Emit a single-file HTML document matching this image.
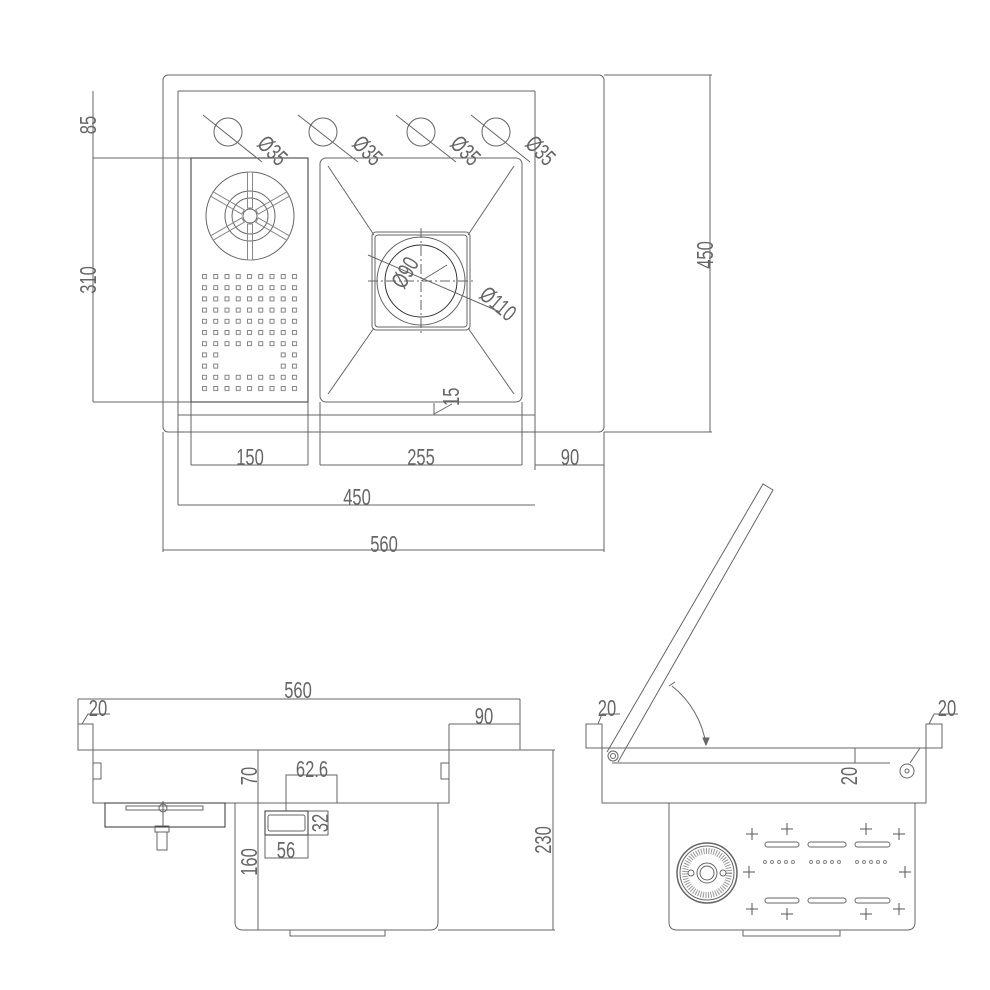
<!DOCTYPE html>
<html><head><meta charset="utf-8"><style>
html,body{margin:0;padding:0;background:#fff}
svg{display:block}
text{font-family:"Liberation Sans Narrow","Liberation Sans",sans-serif;fill:#666;font-size:23px}
</style></head><body>
<svg width="990" height="990" viewBox="0 0 990 990" xmlns="http://www.w3.org/2000/svg">
<defs>
<pattern id="dots" patternUnits="userSpaceOnUse" x="201" y="273" width="11.25" height="11.2">
<rect x="1.5" y="1.5" width="4" height="4" fill="none" stroke="#777" stroke-width="0.9"/>
</pattern>
</defs>
<g fill="none" stroke="#666" stroke-width="1">
<!-- TOP VIEW -->
<rect x="163" y="75" width="441" height="357" rx="5"/>
<path d="M178 91 H535 M178 91 V505 M535 91 V470"/>
<path d="M178 415 H535"/>
<rect x="191" y="158" width="117" height="244" stroke="#333"/>
<rect x="320" y="158" width="202" height="244" rx="6"/>
<rect x="372" y="232" width="98" height="98" rx="4"/>
<rect x="375" y="235" width="92" height="92" rx="3"/>
<path d="M328 166 L374 235 M514 166 L468 235 M328 394 L374 328 M514 394 L468 328"/>
<circle cx="421" cy="281" r="44"/>
<circle cx="421" cy="281" r="36" stroke="#333"/>
<path d="M368 281 H474 M421 228 V336" stroke-dasharray="10 3 2 3"/>
<path d="M368 255 L500 312 M421 281 L447 265"/>
<!-- tap holes -->
<circle cx="228" cy="132" r="14"/><circle cx="323" cy="132" r="14"/><circle cx="421" cy="132" r="14"/><circle cx="496" cy="132" r="14"/>
<path d="M203 115 L262 162 M298 115 L358 162 M396 115 L456 162 M471 115 L530 162"/>
<!-- strainer -->
<circle cx="250" cy="216" r="44"/>
<circle cx="250" cy="216" r="25"/>
<circle cx="250" cy="216" r="18"/>
<circle cx="250" cy="216" r="7"/>
<g stroke="#888">
<rect x="247.5" y="172" width="5" height="36"/>
<rect x="247.5" y="224" width="5" height="36"/>
<rect x="247.5" y="172" width="5" height="36" transform="rotate(60 250 216)"/>
<rect x="247.5" y="172" width="5" height="36" transform="rotate(120 250 216)"/>
<rect x="247.5" y="172" width="5" height="36" transform="rotate(240 250 216)"/>
<rect x="247.5" y="172" width="5" height="36" transform="rotate(300 250 216)"/>
</g>
<!-- dims top -->
<path d="M93 158 H191 M93 91 V402 M93 402 H191"/>
<path d="M604 75 H712 M604 432 H712 M710 75 V432"/>
<path d="M191 402 V465 M308 402 V465 M320 402 V465 M522 402 V465 M604 432 V552 M163 432 V552"/>
<path d="M191 465 H308 M320 465 H522 M535 465 H604 M178 505 H535 M163 550 H604"/>
<path d="M434 403 V415 M434 414 L452 404"/>
<!-- FRONT VIEW -->
<path d="M78 699 H520 M78 699 V750 M520 699 V750 M78 750 H520"/>
<rect x="78" y="724" width="15" height="26"/>
<path d="M449 724 H520 M449 724 V750"/>
<rect x="93" y="750" width="356" height="53"/>
<path d="M258 750 V930"/>
<rect x="93" y="763" width="8" height="16"/><rect x="441" y="763" width="8" height="16"/>
<rect x="105" y="803" width="120" height="24" stroke="#333"/>
<path d="M126 806 H203 V810 H126 Z M163 801 V826"/>
<circle cx="163" cy="808" r="4"/>
<rect x="155" y="826" width="14" height="6"/><rect x="157" y="832" width="10" height="18"/>
<path d="M235 803 V922 Q235 930 243 930 H430 Q438 930 438 922 V803"/>
<path d="M290 930 V936 H385 V930"/>
<path d="M438 750 H555 M438 930 H555 M553 750 V930"/>
<rect x="265" y="811" width="43" height="24" stroke="#333"/>
<rect x="268" y="815" width="37" height="16" rx="2"/>
<path d="M286 811 V775 H337 V803 M308 811 H328 V835 H308 M265 835 V858 H308 V835"/>
<!-- SIDE VIEW -->
<rect x="586" y="724" width="16" height="24"/><rect x="926" y="724" width="16" height="24"/>
<rect x="602" y="748" width="324" height="55"/>
<path d="M612 763 H855 M855 748 V763 H890 M890 748 H910 M920 748 L910 763"/>
<circle cx="907" cy="771" r="7"/><circle cx="907" cy="771" r="2"/>
<circle cx="613" cy="756" r="5"/><circle cx="613" cy="756" r="2.5"/>
<path d="M607 752 L763 484 L773 490 L618 762"/>
<path d="M672 686 A92 92 0 0 1 706 745"/>
<path d="M669 686 l6 -4 M706 745 l-3 -7 l6 0 z" fill="#666"/>
<path d="M669 803 V922 Q669 930 677 930 H907 Q915 930 915 922 V803"/>
<path d="M743 930 V936 H840 V930"/>
<circle cx="707" cy="873" r="30" stroke-width="1.5"/>
<circle cx="707" cy="873" r="27"/>
<circle cx="707" cy="873" r="22" stroke="#999" stroke-width="6" stroke-dasharray="1 1.5"/>
<circle cx="707" cy="873" r="10" fill="#fff"/>
<circle cx="707" cy="873" r="7"/>
<circle cx="691" cy="873" r="3" fill="#fff"/><circle cx="723" cy="873" r="3" fill="#fff"/>
<g stroke="#555">
<path d="M752 828 v12 M746 834 h12 M787 823 v12 M781 829 h12 M866 823 v12 M860 829 h12 M899 828 v12 M893 834 h12"/>
<path d="M749 866 v12 M743 872 h12 M905 866 v12 M899 872 h12"/>
<path d="M752 903 v12 M746 909 h12 M787 908 v12 M781 914 h12 M866 908 v12 M860 914 h12 M899 903 v12 M893 909 h12"/>
</g>
<rect x="765" y="842" width="34" height="5" rx="2.5"/><rect x="808" y="842" width="38" height="5" rx="2.5"/><rect x="855" y="842" width="35" height="5" rx="2.5"/>
<rect x="765" y="898" width="34" height="5" rx="2.5"/><rect x="808" y="898" width="38" height="5" rx="2.5"/><rect x="855" y="898" width="35" height="5" rx="2.5"/>
<g stroke="#888">
<circle cx="765" cy="862" r="1.5"/><circle cx="772" cy="862" r="1.5"/><circle cx="779" cy="862" r="1.5"/><circle cx="786" cy="862" r="1.5"/><circle cx="793" cy="862" r="1.5"/>
<circle cx="811" cy="862" r="1.5"/><circle cx="818" cy="862" r="1.5"/><circle cx="825" cy="862" r="1.5"/><circle cx="832" cy="862" r="1.5"/><circle cx="839" cy="862" r="1.5"/>
<circle cx="857" cy="862" r="1.5"/><circle cx="864" cy="862" r="1.5"/><circle cx="871" cy="862" r="1.5"/><circle cx="878" cy="862" r="1.5"/><circle cx="885" cy="862" r="1.5"/>
</g>
<path d="M82 724 L88 714 H110 M929 724 L934 714 H958 M598 724 L602 714 H620"/>
</g>
<!-- dot grid -->
<rect x="201" y="273" width="101.25" height="78.4" fill="url(#dots)"/>
<rect x="201" y="351.4" width="22.5" height="22.4" fill="url(#dots)"/>
<rect x="279.75" y="351.4" width="22.5" height="22.4" fill="url(#dots)"/>
<rect x="201" y="373.8" width="101.25" height="22.4" fill="url(#dots)"/>
<!-- TEXT -->
<g>
<text transform="translate(96,125) rotate(-90) scale(0.72,1)" text-anchor="middle">85</text>
<text transform="translate(96,280) rotate(-90) scale(0.72,1)" text-anchor="middle">310</text>
<text transform="translate(713,255) rotate(-90) scale(0.72,1)" text-anchor="middle">450</text>
<text transform="translate(250,465) scale(0.72,1)" text-anchor="middle">150</text>
<text transform="translate(421,465) scale(0.72,1)" text-anchor="middle">255</text>
<text transform="translate(570,465) scale(0.72,1)" text-anchor="middle">90</text>
<text transform="translate(357,505) scale(0.72,1)" text-anchor="middle">450</text>
<text transform="translate(384,552) scale(0.72,1)" text-anchor="middle">560</text>
<text transform="translate(256,145) rotate(45) scale(0.72,1)" font-size="20">Ø35</text>
<text transform="translate(351,145) rotate(45) scale(0.72,1)" font-size="20">Ø35</text>
<text transform="translate(449,145) rotate(45) scale(0.72,1)" font-size="20">Ø35</text>
<text transform="translate(524,145) rotate(45) scale(0.72,1)" font-size="20">Ø35</text>
<text transform="translate(404,290) rotate(-60) scale(0.72,1)" font-size="20">Ø90</text>
<text transform="translate(478,297) rotate(40) scale(0.72,1)" font-size="20">Ø110</text>
<text transform="translate(459,406) rotate(-90) scale(0.72,1)" font-size="20">15</text>
<text transform="translate(298,698) scale(0.72,1)" text-anchor="middle">560</text>
<text transform="translate(98,716) scale(0.72,1)" text-anchor="middle">20</text>
<text transform="translate(484,724) scale(0.72,1)" text-anchor="middle">90</text>
<text transform="translate(257,776) rotate(-90) scale(0.72,1)" text-anchor="middle">70</text>
<text transform="translate(312,777) scale(0.72,1)" text-anchor="middle">62.6</text>
<text transform="translate(328,823) rotate(-90) scale(0.72,1)" text-anchor="middle">32</text>
<text transform="translate(286,858) scale(0.72,1)" text-anchor="middle">56</text>
<text transform="translate(257,862) rotate(-90) scale(0.72,1)" text-anchor="middle">160</text>
<text transform="translate(551,840) rotate(-90) scale(0.72,1)" text-anchor="middle">230</text>
<text transform="translate(607,716) scale(0.72,1)" text-anchor="middle">20</text>
<text transform="translate(947,716) scale(0.72,1)" text-anchor="middle">20</text>
<text transform="translate(857,776) rotate(-90) scale(0.72,1)" text-anchor="middle">20</text>
</g>
</svg>
</body></html>
